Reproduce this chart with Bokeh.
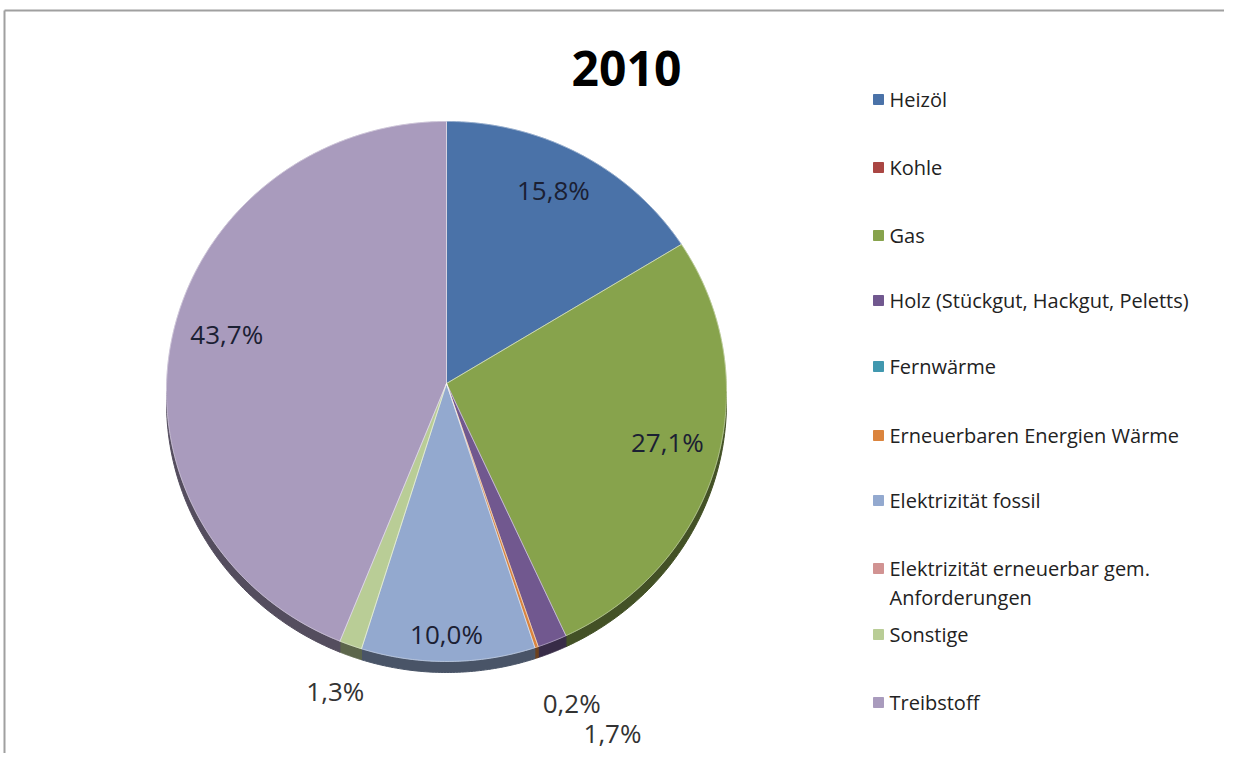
import numpy as np
from bokeh.plotting import figure
from bokeh.models import Range1d
from bokeh.core.properties import value
from bokeh.embed import file_html
from bokeh.resources import INLINE

# ---------------- data ----------------
title_text = "2010"
categories = [
    "Heizöl",
    "Kohle",
    "Gas",
    "Holz (Stückgut, Hackgut, Peletts)",
    "Fernwärme",
    "Erneuerbaren Energien Wärme",
    "Elektrizität fossil",
    "Elektrizität erneuerbar gem.\nAnforderungen",
    "Sonstige",
    "Treibstoff",
]
shares = [15.8, 0.0, 27.1, 1.7, 0.0, 0.2, 10.0, 0.0, 1.3, 43.7]

# ---------------- style ----------------
colors = ["#4A72A8", "#AA4643", "#87A34C", "#71588F", "#4198AF",
          "#DB843D", "#93A9CF", "#D19392", "#B9CD96", "#A99BBD"]
FONT = "Open Sans"
W, H = 1224, 753
CX, CY, RX, RY = 446.0, 391.0, 280.0, 270.0   # ellipse of the top face (page px)
AX, AY = 446.0, 383.0                          # apex of slices
DEPTH = 11.0
# label placement: (x factor, y factor) of the ellipse radius at mid angle
label_place = {0: (0.80, 0.85), 2: (0.82, 0.68), 3: (1.57, 1.367), 5: (1.39, 1.22),
               6: (0.0, 0.90), 8: (1.16, 1.18), 9: (0.80, 1.10)}
legend_y = [99, 167, 235, 300, 366, 435, 500, 568, 634, 702]

p = figure(width=W, height=H, output_backend="svg", toolbar_location=None,
           x_range=Range1d(0, W), y_range=Range1d(H, 0),
           min_border=0)
p.axis.visible = False
p.grid.visible = False
p.outline_line_color = None
p.background_fill_color = "white"

# frame
p.line([4, W], [10, 10], line_color="#a0a0a0", line_width=2)
p.line([4, 4], [10, H], line_color="#a0a0a0", line_width=2)


def darker(hexcol, f):
    r, g, b = (int(hexcol[i:i + 2], 16) for i in (1, 3, 5))
    return "#%02x%02x%02x" % (int(r * f), int(g * f), int(b * f))


def pt(theta_deg, dy=0.0):
    t = np.radians(theta_deg)
    return CX + RX * np.sin(t), CY - RY * np.cos(t) + dy


total = float(sum(shares))
fr = [s / total for s in shares]
starts = np.concatenate([[0.0], np.cumsum(fr)[:-1]]) * 360.0
ends = np.cumsum(fr) * 360.0

# side (rim) of the 3D pie
rim_xs, rim_ys, rim_c = [], [], []
for i, (a, b) in enumerate(zip(starts, ends)):
    if shares[i] <= 0:
        continue
    lo, hi = max(a, 90.0), min(b, 270.0)
    if hi <= lo:
        continue
    th = np.linspace(lo, hi, 60)
    x1, y1 = pt(th)
    x2, y2 = pt(th[::-1], DEPTH)
    rim_xs.append(list(np.concatenate([x1, x2])))
    rim_ys.append(list(np.concatenate([y1, y2])))
    rim_c.append(darker(colors[i], 0.5))
p.patches(rim_xs, rim_ys, fill_color=rim_c, line_color=rim_c, line_width=1)

# top faces
xs, ys, cs = [], [], []
for i, (a, b) in enumerate(zip(starts, ends)):
    if shares[i] <= 0:
        continue
    th = np.linspace(a, b, max(4, int((b - a) * 2)))
    x, y = pt(th)
    xs.append([AX] + list(x))
    ys.append([AY] + list(y))
    cs.append(colors[i])
p.patches(xs, ys, fill_color=cs, line_color=cs, line_width=0.8)
p.patches(xs, ys, fill_color=None, line_color="white", line_alpha=0.35, line_width=1)

# percentage labels
lx, ly, lt, lc = [], [], [], []
for i, (a, b) in enumerate(zip(starts, ends)):
    if shares[i] <= 0:
        continue
    m = np.radians((a + b) / 2)
    fx, fy = label_place.get(i, (0.8, 0.8))
    lx.append(CX + RX * fx * np.sin(m))
    ly.append(CY - RY * fy * np.cos(m))
    lt.append(("%.1f" % shares[i]).replace(".", ",") + "%")
    lc.append("#1b2033" if fx < 1.0 else "#333333")
p.text(lx, ly, text=lt, text_font=value(FONT), text_font_size="26px",
       text_color=lc, text_align="center", text_baseline="middle")

# title
p.text([626], [68], text=[title_text], text_font=value(FONT), text_font_size="48px",
       text_font_style="bold", text_color="#000000", text_align="center",
       text_baseline="middle")

# legend
p.scatter([878] * len(categories), legend_y, marker="square", size=10,
          fill_color=colors, line_color=colors)
tx, ty, tt = [], [], []
for name, y0 in zip(categories, legend_y):
    for k, line in enumerate(name.split("\n")):
        tx.append(889)
        ty.append(y0 + 29 * k)
        tt.append(line)
p.text(tx, ty, text=tt, text_font=value(FONT), text_font_size="20px",
       text_color="#222222", text_align="left", text_baseline="middle")

open("out.html", "w").write(file_html(p, INLINE))
